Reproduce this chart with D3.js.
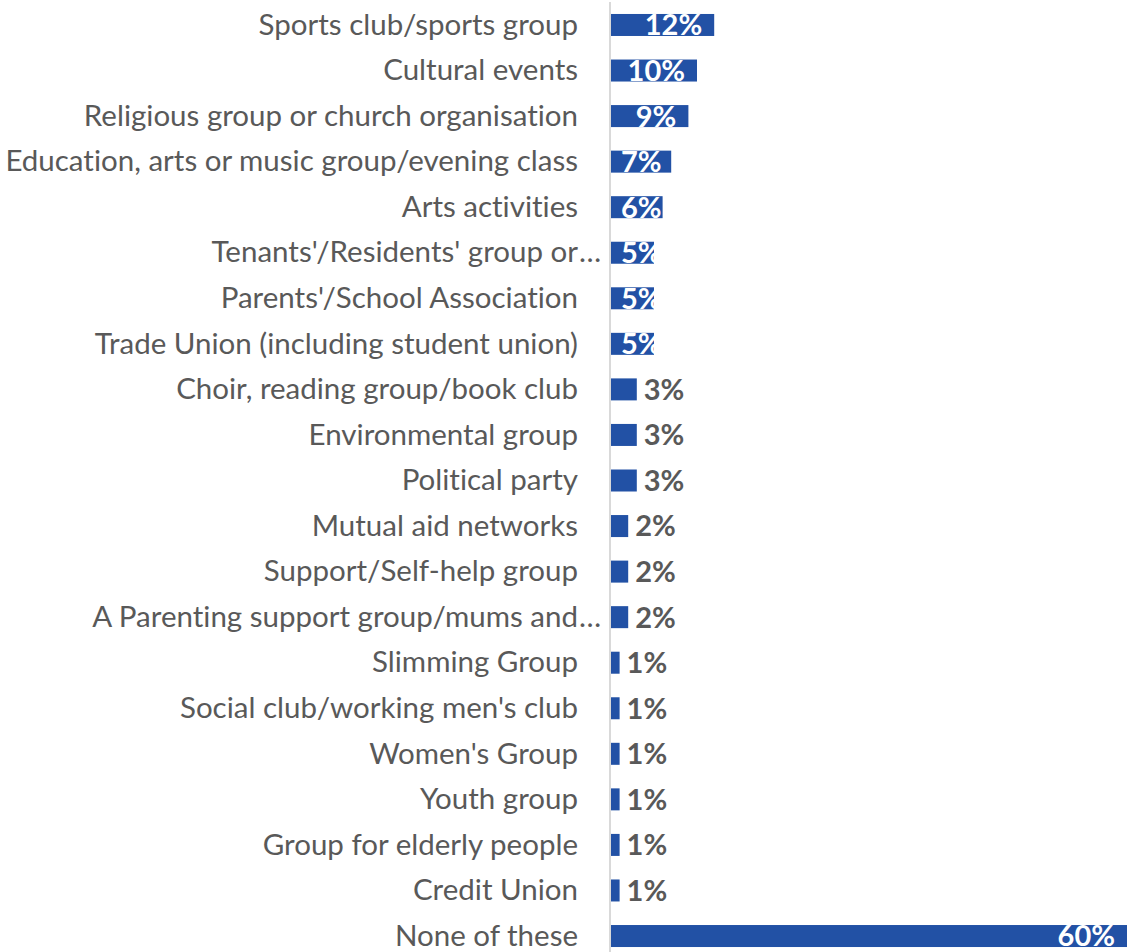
<!DOCTYPE html>
<html>
<head>
<meta charset="utf-8">
<script src="https://cdn.jsdelivr.net/npm/d3@7"></script>
<style>
  html, body { margin: 0; padding: 0; background: #ffffff; }
  svg { display: block; }
  text { font-variant-ligatures: none; font-feature-settings: "liga" 0; }
</style>
</head>
<body>
<svg id="chart" width="1127" height="952"></svg>
<script>
// Share of respondents taking part in each kind of group (%)
const categories = [
  "Sports club/sports group",
  "Cultural events",
  "Religious group or church organisation",
  "Education, arts or music group/evening class",
  "Arts activities",
  "Tenants'/Residents' group or…",
  "Parents'/School Association",
  "Trade Union (including student union)",
  "Choir, reading group/book club",
  "Environmental group",
  "Political party",
  "Mutual aid networks",
  "Support/Self-help group",
  "A Parenting support group/mums and…",
  "Slimming Group",
  "Social club/working men's club",
  "Women's Group",
  "Youth group",
  "Group for elderly people",
  "Credit Union",
  "None of these"
];
const values = [12, 10, 9, 7, 6, 5, 5, 5, 3, 3, 3, 2, 2, 2, 1, 1, 1, 1, 1, 1, 60];
const valueLabels = values.map(v => v + "%");

const W = 1127, H = 952;
const svg = d3.select("#chart");

const barColor = "#2251a5";
const textColor = "#595959";
const axisColor = "#d9d9d9";
const fontFamily = "Lato, 'Open Sans', sans-serif";

const x = d3.scaleLinear().domain([0, 60]).range([611, 1127]);
const y = d3.scaleBand()
  .domain(categories)
  .range([2.2, 958.8])
  .paddingInner(0.517)
  .paddingOuter(0.2585);

const labelRight = 578;

// category axis line
svg.append("line")
  .attr("x1", 610).attr("x2", 610)
  .attr("y1", 2).attr("y2", H)
  .attr("stroke", axisColor)
  .attr("stroke-width", 2);

// bars
svg.append("g").selectAll("rect")
  .data(categories)
  .join("rect")
  .attr("x", x(0))
  .attr("y", d => y(d))
  .attr("width", (d, i) => x(values[i]) - x(0))
  .attr("height", y.bandwidth())
  .attr("fill", barColor);

// category labels (truncated names keep their ellipsis past the right edge)
const catG = svg.append("g")
  .attr("font-family", fontFamily)
  .attr("font-size", 29.5)
  .attr("fill", textColor);

categories.forEach(c => {
  const cy = y(c) + y.bandwidth() / 2;
  const truncated = c.endsWith("…");
  const main = truncated ? c.slice(0, -1) : c;
  catG.append("text")
    .attr("x", labelRight)
    .attr("y", cy)
    .attr("dy", "0.33em")
    .attr("text-anchor", "end")
    .text(main);
  if (truncated) {
    catG.append("text")
      .attr("x", labelRight + 1)
      .attr("y", cy)
      .attr("dy", "0.33em")
      .attr("text-anchor", "start")
      .text("…");
  }
});

// value labels: inside the bar end in white, or just outside in grey
const valG = svg.append("g")
  .attr("font-family", fontFamily)
  .attr("font-weight", "bold")
  .attr("font-size", 29);

categories.forEach((c, i) => {
  const v = values[i];
  const cy = y(c) + y.bandwidth() / 2;
  const xEnd = x(v);
  const t = valG.append("text")
    .attr("y", cy)
    .attr("dy", "0.36em")
    .text(valueLabels[i]);
  if (v >= 5) {
    t.attr("fill", "#ffffff").attr("text-anchor", "start");
    const w = t.node().getComputedTextLength();
    let left = xEnd - 12 - w;
    if (left < x(0) + 10) left = x(0) + 10;
    t.attr("x", left);
  } else {
    t.attr("fill", textColor)
      .attr("text-anchor", "start")
      .attr("x", xEnd + 7);
  }
});
</script>
</body>
</html>
